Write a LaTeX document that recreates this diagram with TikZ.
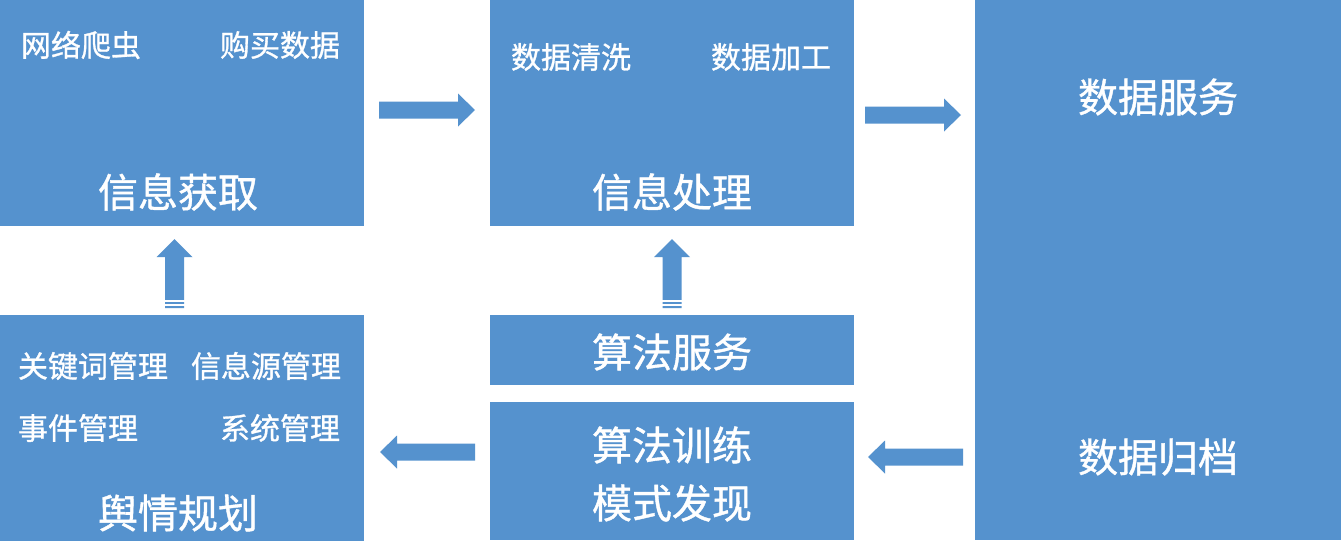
\documentclass[tikz,border=0pt]{standalone}
\usepackage{fontspec}
\setmainfont[FakeBold=1]{Noto Sans CJK SC}
\definecolor{boxblue}{HTML}{5592CE}
\begin{document}
\begin{tikzpicture}[x=0.5pt,y=-0.5pt,
  box/.style={fill=boxblue,draw=none,anchor=north west,inner sep=0pt},
  small/.style={text=white,font=\fontsize{15}{17}\selectfont,inner sep=0pt},
  big/.style={text=white,font=\fontsize{20}{22}\selectfont,inner sep=0pt},
  blk/.style={fill=boxblue,draw=none}]
\useasboundingbox (0,0) rectangle (1341,542);
\fill[white] (0,0) rectangle (1341,542);
% boxes
\node[box,minimum width=182pt,minimum height=113pt] (acq) at (0,0) {};
\node[box,minimum width=182pt,minimum height=113pt] (proc) at (490,0) {};
\node[box,minimum width=183pt,minimum height=270pt] (dserv) at (975,0) {};
\node[box,minimum width=182pt,minimum height=113pt] (plan) at (0,315) {};
\node[box,minimum width=182pt,minimum height=35pt] (aserv) at (490,315) {};
\node[box,minimum width=182pt,minimum height=69pt] (train) at (490,402) {};
% texts
\node[small] (t1) at (81,45) {网络爬虫};
\node[small] (t2) at (280,45) {购买数据};
\node[big] (t3) at (178,192) {信息获取};
\node[small] (t4) at (571,57) {数据清洗};
\node[small] (t5) at (771,57) {数据加工};
\node[big] (t6) at (672,192) {信息处理};
\node[big] (t7) at (1158,97) {数据服务};
\node[big] (t8) at (1158,457) {数据归档};
\node[small] (t9) at (93,366) {关键词管理};
\node[small] (t10) at (266,366) {信息源管理};
\node[small] (t11) at (78,428) {事件管理};
\node[small] (t12) at (280,428) {系统管理};
\node[big] (t13) at (178,513) {舆情规划};
\node[big] (t14) at (672,352) {算法服务};
\node[big] (t15) at (672,445) {算法训练};
\node[big] (t16) at (672,503) {模式发现};
% right arrows
\fill[blk] (379,101.5) -- (458,101.5) -- (458,93.5) -- (475,110) -- (458,126.5) -- (458,118.5) -- (379,118.5) -- cycle;
\fill[blk] (865,106.5) -- (944,106.5) -- (944,98.5) -- (961,115) -- (944,131.5) -- (944,123.5) -- (865,123.5) -- cycle;
% left arrows
\fill[blk] (475,443.5) -- (397,443.5) -- (397,435.5) -- (380,452) -- (397,468.5) -- (397,460.5) -- (475,460.5) -- cycle;
\fill[blk] (963,448.5) -- (885,448.5) -- (885,440.5) -- (868,457) -- (885,473.5) -- (885,465.5) -- (963,465.5) -- cycle;
% up arrows
\foreach \xc in {174.5,672}{
  \fill[blk] (\xc-9.5,308) -- (\xc-9.5,257) -- (\xc-18,257) -- (\xc,239) -- (\xc+18,257) -- (\xc+9.5,257) -- (\xc+9.5,308) -- cycle;
  \draw[white,line width=0.6pt] (\xc-10,301) -- (\xc+10,301);
  \draw[white,line width=0.6pt] (\xc-10,305) -- (\xc+10,305);
}
\end{tikzpicture}
\end{document}
